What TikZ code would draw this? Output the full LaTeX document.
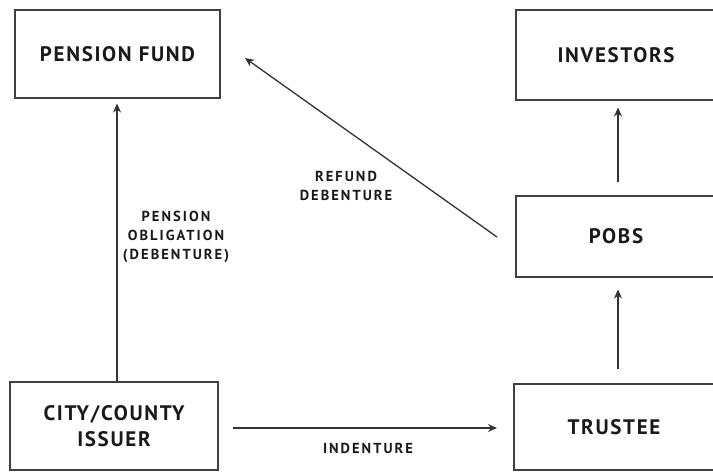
\documentclass[tikz,border=0pt]{standalone}
\usepackage{fontspec}
\setmainfont{PT Sans}
\usetikzlibrary{arrows.meta}
\newfontfamily\boxfont[LetterSpace=8]{PT Sans Bold}
\newfontfamily\labfont[LetterSpace=14]{PT Sans Bold}
\begin{document}
\begin{tikzpicture}[x=1pt,y=-1pt,
  box/.style={draw=black!75,line width=1.1pt,inner sep=0pt,font=\boxfont\fontsize{21}{26}\selectfont,text=black!90,align=center},
  conn/.style={draw=black!80,line width=1.3pt,-{Stealth[length=9pt,width=8pt]}},
  lab/.style={font=\labfont\fontsize{14.5}{19}\selectfont,text=black!90,align=center}]
\useasboundingbox (0,0) rectangle (713,472);
\node[box,minimum width=205pt,minimum height=88pt] (pf) at (117.5,54) {PENSION FUND};
\node[box,minimum width=200pt,minimum height=90pt] (inv) at (616,55) {INVESTORS};
\node[box,minimum width=200pt,minimum height=81pt] (pobs) at (616,236.5) {POBS};
\node[box,minimum width=208pt,minimum height=88pt] (city) at (114,426) {CITY/COUNTY\\ISSUER};
\node[box,minimum width=200pt,minimum height=86pt] (tr) at (614,427) {TRUSTEE};
\coordinate (c1) at (117,382);
\coordinate (c2) at (117,101);
\draw[conn] (city.north -| c1) -- ([yshift=-5pt]pf.south -| c2);
\draw[conn] (233,428) coordinate (i1) -- (497,428) coordinate (i2);
\draw[conn] ([yshift=14pt]tr.north -| 618,0) -- ([yshift=-12pt]pobs.south -| 618,0);
\draw[conn] ([yshift=13pt]pobs.north -| 618,0) -- ([yshift=-7pt]inv.south -| 618,0);
\draw[conn] (497,237) coordinate (r1) -- (245,58) coordinate (r2);
\node[lab] (l1) at (176,237) {PENSION\\OBLIGATION\\(DEBENTURE)};
\node[lab] (l2) at (346,186) {REFUND\\DEBENTURE};
\node[lab] (l3) at (368,448) {INDENTURE};
\end{tikzpicture}
\end{document}
